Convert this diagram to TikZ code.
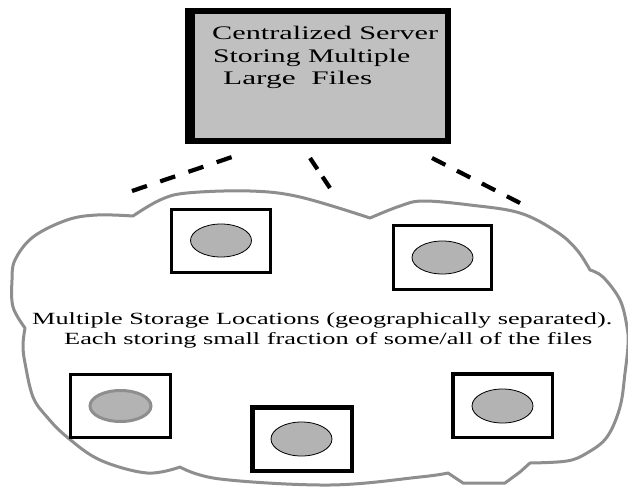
\documentclass[tikz,border=0pt]{standalone}
\usepackage{fontspec}
\setmainfont{Liberation Serif}
\usepackage{graphicx}
\usetikzlibrary{shapes.geometric}
\definecolor{boxgray}{HTML}{C0C0C0}
\definecolor{ellgray}{HTML}{B3B3B3}
\definecolor{cloudgray}{HTML}{8E8E8E}
\newcommand{\wline}[2]{\resizebox{#1}{\height}{#2}}
\begin{document}
\begin{tikzpicture}[x=1pt,y=-1pt,
  server/.style={draw=black, line width=6pt, fill=boxgray, rectangle, inner sep=0pt, minimum width=260pt, minimum height=130pt},
  site/.style={draw=black, line width=3pt, fill=white, rectangle, inner sep=0pt, minimum width=99pt, minimum height=63pt},
  disk/.style={draw=black, line width=0.8pt, fill=ellgray, ellipse, inner sep=0pt, minimum width=61pt, minimum height=33pt},
  cloudline/.style={draw=cloudgray, line width=3pt, line join=round},
  link/.style={draw=black, line width=4.2pt},
  boxtext/.style={anchor=base west, inner sep=0pt, font=\fontsize{19.2}{22}\selectfont},
  cloudtext/.style={anchor=base west, inner sep=0pt, font=\fontsize{17.1}{20}\selectfont}]
\useasboundingbox (0,0) rectangle (628,489);
\fill[white] (0,0) rectangle (628,489);

% server
\node[server] (server) at (318,76) {};
\fill[black] (185,8) rectangle (195,144);
\node[boxtext] (t1) at (212,40) {\wline{226pt}{Centralized Server}};
\node[boxtext] (t2) at (213,62.7) {\wline{197pt}{Storing Multiple}};
\node[boxtext] (t3) at (223,84.3) {\wline{149pt}{Large\ \ Files}};

% dashed links
\coordinate (l1a) at (232,157); \coordinate (l1b) at (132,191);
\coordinate (l2a) at (310,158); \coordinate (l2b) at (330,188);
\coordinate (l3a) at (432,158); \coordinate (l3b) at (520,203);
\draw[link, dash pattern=on 15.8pt off 14pt] (l1b) -- (l1a);
\draw[link, dash pattern=on 13.5pt off 9pt] (l2a) -- (l2b);
\draw[link, dash pattern=on 15pt off 13pt] (l3a) -- (l3b);

% cloud
\draw[cloudline]
  plot[smooth, tension=0.6] coordinates {(133,216) (160,200) (187,193) (250,191) (300,197) (370,218)}
  -- plot[smooth, tension=0.6] coordinates {(370,218) (400,206) (423,201) (470,205) (520,213) (557,232) (577,250) (590,270)}
  -- plot[smooth, tension=0.6] coordinates {(590,270) (603,277) (620,300) (627,327) (628,345) (625,373) (620,407) (607,437) (587,453) (567,461) (530,463)}
  -- (520,472) -- (505,483) -- (463,483) -- (448,473)
  -- plot[smooth, tension=0.6] coordinates {(448,473) (420,477) (330,485) (220,479) (180,467)}
  -- plot[smooth, tension=0.6] coordinates {(180,467) (147,473) (100,460) (67,437) (47,417) (33,397) (25,363) (23,345) (25,328)}
  -- plot[smooth, tension=0.6] coordinates {(25,328) (13,307) (12,280) (15,260) (33,237) (67,220) (97,215) (133,216)}
  -- cycle;

% storage sites
\node[site] (sA) at (221,241) {};
\node[disk] (dA) at (221,240.5) {};
\node[site, minimum height=64pt, minimum width=98pt] (sB) at (442.5,257.5) {};
\node[disk] (dB) at (442.5,257.5) {};
\node[site, minimum width=100pt] (sC) at (120.5,406) {};
\node[disk, draw=cloudgray, line width=3pt, minimum width=61pt, minimum height=31pt] (dC) at (120.5,406) {};
\node[site, line width=4.5pt, minimum width=99.5pt, minimum height=63.5pt] (sD) at (302,439) {};
\node[disk, minimum height=34pt] (dD) at (301.5,439) {};
\node[site, line width=3.5pt, minimum width=99.5pt, minimum height=63.5pt] (sE) at (502.5,405.5) {};
\node[disk, minimum height=34pt] (dE) at (502.5,406) {};

% cloud text
\node[cloudtext] (c1) at (32,324) {\wline{580pt}{Multiple Storage Locations (geographically separated).}};
\node[cloudtext] (c2) at (64,344.3) {\wline{528pt}{Each storing small fraction of some/all of the files}};
\end{tikzpicture}
\end{document}
